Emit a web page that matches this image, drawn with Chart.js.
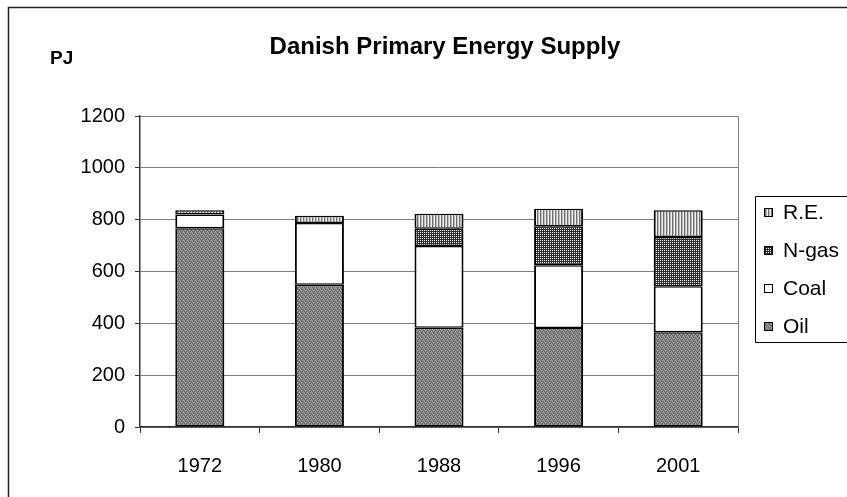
<!DOCTYPE html>
<html lang="en">
  <head>
    <meta charset="UTF-8" />
    <title>Danish Primary Energy Supply</title>
    <script src="https://cdn.jsdelivr.net/npm/chart.js"></script>
    <style>
      body {
        margin: 0;
        background-color: #fff;
      }
      #wrap {
        width: 847px;
        height: 497px;
      }
    </style>
  </head>
  <body>
    <div id="wrap">
      <canvas id="myChart" width="847" height="497"></canvas>
    </div>

    <script>
      // values (PJ)
      const years = ["1972", "1980", "1988", "1996", "2001"];
      const oil = [767, 549, 383, 382, 366];
      const coal = [53, 238, 315, 242, 177];
      const ngas = [0, 0, 67, 151, 190];
      const renew = [16, 28, 58, 67, 103];
      const yTicks = [0, 200, 400, 600, 800, 1000, 1200];

      const FONT = "Arial, 'Liberation Sans', sans-serif";

      // small fill patterns, like the old spreadsheet look
      function makePattern(rows, colors) {
        const c = document.createElement("canvas");
        c.width = rows[0].length;
        c.height = rows.length;
        const g = c.getContext("2d");
        rows.forEach((row, y) => {
          for (let x = 0; x < row.length; x++) {
            g.fillStyle = colors[row[x]];
            g.fillRect(x, y, 1, 1);
          }
        });
        return g.createPattern(c, "repeat");
      }

      const oilFill = makePattern(
        ["abac", "cbab", "acab", "babc"],
        { a: "#858585", b: "#6a6a6a", c: "#a2a2a2" }
      );
      const ngasFill = makePattern(["wk", "kk"], {
        k: "#2a2a2a",
        w: "#ffffff",
      });
      const reFill = makePattern(["dlw"], {
        d: "#6e6e6e",
        l: "#bdbdbd",
        w: "#f0f0f0",
      });

      const barBorder = { top: 1.5, bottom: 1.5, left: 2, right: 2 };

      function seg(label, data, fill) {
        return {
          label: label,
          data: data,
          backgroundColor: fill,
          borderColor: "#000",
          borderWidth: barBorder,
          borderSkipped: false,
          categoryPercentage: 1.0,
          barPercentage: 0.41,
        };
      }

      // frame, title, unit label, plot box and legend
      const decor = {
        id: "decor",
        beforeDraw(chart) {
          const c = chart.ctx;
          c.save();
          c.fillStyle = "#fff";
          c.fillRect(0, 0, chart.width, chart.height);
          c.restore();
        },
        afterDraw(chart) {
          const c = chart.ctx;
          const a = chart.chartArea;
          c.save();

          // outer chart frame (only left/top are in view)
          c.strokeStyle = "#222";
          c.lineWidth = 1.5;
          c.beginPath();
          c.moveTo(8.5, 600);
          c.lineTo(8.5, 7.5);
          c.lineTo(900, 7.5);
          c.stroke();

          // plot box top/right
          c.strokeStyle = "#808080";
          c.lineWidth = 1;
          c.beginPath();
          c.moveTo(a.left, a.top + 0.5);
          c.lineTo(a.right + 0.5, a.top + 0.5);
          c.lineTo(a.right + 0.5, a.bottom);
          c.stroke();

          c.fillStyle = "#000";
          c.textBaseline = "middle";
          c.textAlign = "center";
          c.font = "bold 24px " + FONT;
          c.fillText("Danish Primary Energy Supply", 445, 47);
          c.textAlign = "left";
          c.font = "bold 19px " + FONT;
          c.fillText("PJ", 50, 59);

          // legend box
          c.strokeStyle = "#000";
          c.lineWidth = 1;
          c.beginPath();
          c.moveTo(900, 196.5);
          c.lineTo(755.5, 196.5);
          c.lineTo(755.5, 342.5);
          c.lineTo(900, 342.5);
          c.stroke();

          const sets = chart.data.datasets.slice().reverse();
          c.font = "21px " + FONT;
          sets.forEach((ds, i) => {
            const cy = 212 + i * 38;
            c.fillStyle = ds.backgroundColor;
            c.fillRect(764, cy - 4, 9, 9);
            c.strokeStyle = "#000";
            c.strokeRect(764.5, cy - 3.5, 8, 8);
            c.fillStyle = "#000";
            c.fillText(ds.label, 783, cy + 1);
          });
          c.restore();
        },
      };

      const ctx = document.getElementById("myChart").getContext("2d");
      const myChart = new Chart(ctx, {
        type: "bar",
        data: {
          labels: years,
          datasets: [
            seg("Oil", oil, oilFill),
            seg("Coal", coal, "#ffffff"),
            seg("N-gas", ngas, ngasFill),
            seg("R.E.", renew, reFill),
          ],
        },
        options: {
          responsive: false,
          animation: false,
          layout: {
            padding: { left: 0, top: 116, right: 109, bottom: 0 },
          },
          scales: {
            x: {
              stacked: true,
              afterFit(scale) {
                scale.height = 70;
              },
              grid: {
                offset: true,
                drawOnChartArea: false,
                drawTicks: true,
                tickLength: 6,
                tickColor: "#333",
              },
              border: { color: "#333", width: 1.5 },
              ticks: {
                color: "#000",
                padding: 21,
                font: { family: FONT, size: 20 },
              },
            },
            y: {
              stacked: true,
              min: 0,
              max: 1200,
              afterFit(scale) {
                scale.width = 140;
              },
              afterBuildTicks(scale) {
                scale.ticks = yTicks.map((v) => ({ value: v }));
              },
              grid: {
                color: "#808080",
                lineWidth: 1,
                drawTicks: true,
                tickLength: 5,
                tickColor: "#333",
              },
              border: { color: "#333", width: 1.5 },
              ticks: {
                color: "#000",
                padding: 10,
                font: { family: FONT, size: 20 },
                callback: (v) => String(v),
              },
            },
          },
          plugins: {
            legend: { display: false },
            title: { display: false },
            tooltip: { enabled: false },
          },
        },
        plugins: [decor],
      });
    </script>
  </body>
</html>
